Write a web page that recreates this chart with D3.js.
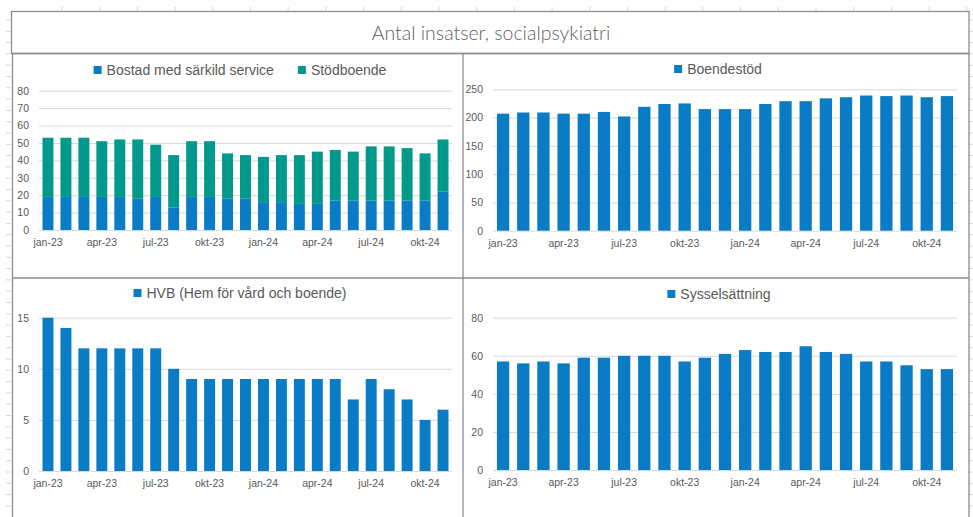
<!DOCTYPE html>
<html>
<head>
<meta charset="utf-8">
<script src="https://cdn.jsdelivr.net/npm/d3@7"></script>
<style>
  body { margin: 0; background: #fff; }
  svg { display: block; }
  .tick text { fill: #595959; font-family: "Liberation Sans", Arial, sans-serif; font-size: 10.5px; }
  .legend text { fill: #595959; font-family: "Liberation Sans", Arial, sans-serif; font-size: 14px; }
</style>
</head>
<body>
<svg id="chart" width="973" height="517"></svg>
<script>
// Months shown on the category axis (every third is labelled)
const months = ["jan-23","feb-23","mar-23","apr-23","maj-23","jun-23","jul-23","aug-23","sep-23","okt-23","nov-23","dec-23",
                "jan-24","feb-24","mar-24","apr-24","maj-24","jun-24","jul-24","aug-24","sep-24","okt-24","nov-24"];

// Series values
const bostadMedService = [19,19,19,19,19,18,19,13,19,19,18,18,16,16,15,15,17,17,17,17,17,17,22];
const stodboende       = [34,34,34,32,33,34,30,30,32,32,26,25,26,27,28,30,29,28,31,31,30,27,30];
const boendestod       = [207,209,209,207,207,210,202,219,224,225,215,215,215,224,229,229,234,236,239,238,239,236,238];
const hvb              = [15,14,12,12,12,12,12,10,9,9,9,9,9,9,9,9,9,7,9,8,7,5,6];
const sysselsattning   = [57,56,57,56,59,59,60,60,60,57,59,61,63,62,62,65,62,61,57,57,55,53,53];

const blue = "#0a7cc6";
const teal = "#00998b";

const svg = d3.select("#chart");

// faint spreadsheet grid ticks around the pasted chart
const sheet = svg.append("g").attr("stroke", "#d6d6d6").attr("stroke-width", 1);
for (let y = 20; y < 517; y += 11.3) {
  sheet.append("line").attr("x1", 6).attr("x2", 11).attr("y1", y).attr("y2", y);
  sheet.append("line").attr("x1", 969).attr("x2", 973).attr("y1", y).attr("y2", y);
}
for (let x = 62; x < 969; x += 37.7) {
  sheet.append("line").attr("x1", x).attr("x2", x).attr("y1", 7).attr("y2", 11);
}

// Title box
svg.append("rect")
  .attr("x", 11.5).attr("y", 11.5).attr("width", 957.5).attr("height", 42)
  .attr("fill", "#fff").attr("stroke", "#8c8c8c").attr("stroke-width", 1.3);
svg.append("text")
  .attr("x", 491).attr("y", 39.5)
  .attr("text-anchor", "middle")
  .attr("fill", "#5f5f5f")
  .style("font-family", "Lato, 'Open Sans', sans-serif")
  .style("font-weight", 300)
  .style("font-size", "19.5px")
  .text("Antal insatser, socialpsykiatri");

// Panel frames
const frame = svg.append("g").attr("stroke", "#8c8c8c").attr("stroke-width", 1.3).attr("fill", "none");
frame.append("path").attr("d", "M12.5,517 V53.5 H969 V517");
frame.append("line").attr("x1", 463).attr("x2", 463).attr("y1", 53.5).attr("y2", 517);
frame.append("line").attr("x1", 12.5).attr("x2", 969).attr("y1", 278).attr("y2", 278);

// Panel definitions
const panels = [
  { cx: 240, legendY: 70, x0: 39, x1: 452, yBottom: 230, yTop: 90.7, max: 80, step: 10,
    series: [{ name: "Bostad med särkild service", values: bostadMedService, color: blue },
             { name: "Stödboende", values: stodboende, color: teal }] },
  { cx: 718, legendY: 69, x0: 493, x1: 957, yBottom: 230.7, yTop: 89.3, max: 250, step: 50,
    series: [{ name: "Boendestöd", values: boendestod, color: blue }] },
  { cx: 240, legendY: 293, x0: 39, x1: 452, yBottom: 471, yTop: 317.7, max: 15, step: 5,
    series: [{ name: "HVB (Hem för vård och boende)", values: hvb, color: blue }] },
  { cx: 719, legendY: 294, x0: 493, x1: 957, yBottom: 470, yTop: 317.7, max: 80, step: 20,
    series: [{ name: "Sysselsättning", values: sysselsattning, color: blue }] }
];

panels.forEach(p => {
  const g = svg.append("g");

  const x = d3.scaleBand()
    .domain(months)
    .range([p.x0, p.x1])
    .paddingInner(0.39)
    .paddingOuter(0.195);

  const y = d3.scaleLinear()
    .domain([0, p.max])
    .range([p.yBottom, p.yTop]);

  // gridlines + y labels
  const yAxis = g.append("g")
    .attr("transform", `translate(${p.x0},0)`)
    .call(d3.axisLeft(y)
      .tickValues(d3.range(0, p.max + 0.001, p.step))
      .tickSize(-(p.x1 - p.x0))
      .tickPadding(10));
  yAxis.select(".domain").remove();
  yAxis.selectAll(".tick line").attr("stroke", "#d9d9d9").attr("stroke-width", 1);

  // stacked bars
  const stack = d3.stack().keys(p.series.map((s, i) => i))
    .value((d, k) => p.series[k].values[d])(months.map((m, i) => i));

  stack.forEach((layer, k) => {
    g.append("g")
      .attr("fill", p.series[k].color)
      .selectAll("rect")
      .data(layer)
      .join("rect")
      .attr("x", (d, i) => x(months[i]))
      .attr("width", x.bandwidth())
      .attr("y", d => y(d[1]))
      .attr("height", d => y(d[0]) - y(d[1]));
  });

  // x labels
  const xAxis = g.append("g")
    .attr("transform", `translate(0,${p.yBottom})`)
    .call(d3.axisBottom(x)
      .tickValues(months.filter((m, i) => i % 3 === 0))
      .tickSize(0)
      .tickPadding(9));
  xAxis.select(".domain").remove();

  // legend, centred over the panel
  const legend = g.append("g").attr("class", "legend");
  let cursor = 0;
  p.series.forEach((s, i) => {
    const item = legend.append("g").attr("transform", `translate(${cursor},0)`);
    item.append("rect").attr("x", 0).attr("y", -4).attr("width", 8).attr("height", 8).attr("fill", s.color);
    const t = item.append("text").attr("x", 13).attr("y", 5).text(s.name);
    cursor += 13 + t.node().getComputedTextLength() + 24;
  });
  const totalW = cursor - 24;
  legend.attr("transform", `translate(${p.cx - totalW / 2},${p.legendY})`);
});
</script>
</body>
</html>
